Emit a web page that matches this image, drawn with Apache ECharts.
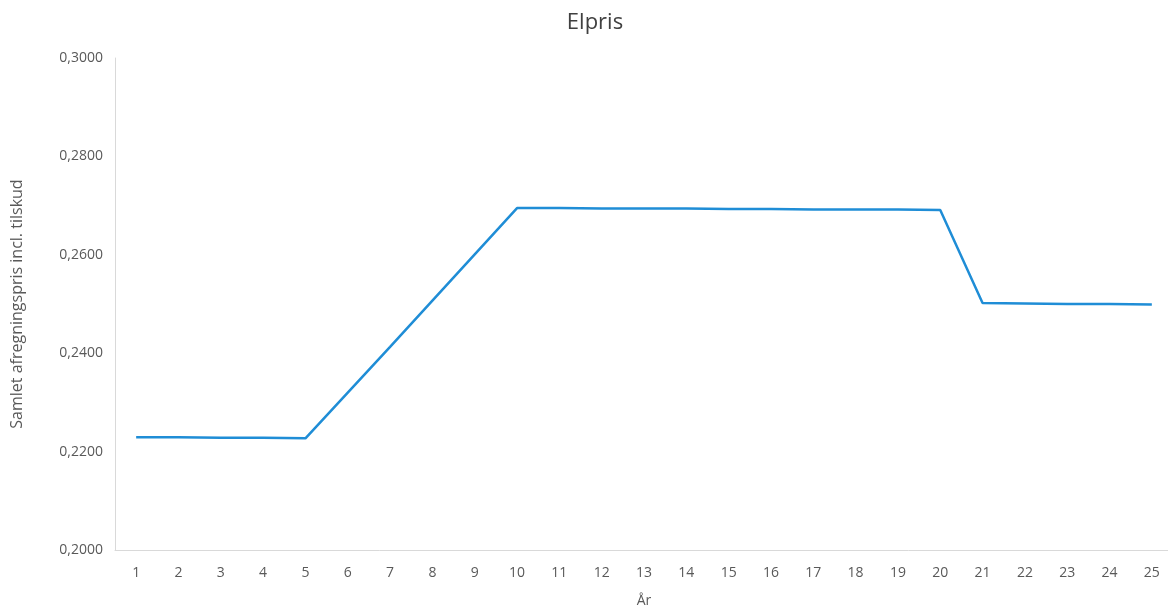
<!DOCTYPE html>
<html>
<head>
<meta charset="utf-8">
<script src="https://cdn.jsdelivr.net/npm/echarts@6/dist/echarts.min.js"></script>
<style>
html,body{margin:0;padding:0;background:#fff;overflow:hidden;}
#chart{width:1180px;height:609px;}
</style>
</head>
<body>
<div id="chart"></div>
<script>
const years = ['1','2','3','4','5','6','7','8','9','10','11','12','13','14','15','16','17','18','19','20','21','22','23','24','25'];
const elpris = [0.2229, 0.2229, 0.2228, 0.2228, 0.2227, 0.2320, 0.2413, 0.2507, 0.2601, 0.2695, 0.2695, 0.2694, 0.2694, 0.2694, 0.2693, 0.2693, 0.2692, 0.2692, 0.2692, 0.2691, 0.2502, 0.2501, 0.2500, 0.2500, 0.2499];
const title = 'Elpris';
const xName = 'År';
const yName = 'Samlet afregningspris incl. tilskud';

const chart = echarts.init(document.getElementById('chart'), null, {renderer:'canvas'});
const font = '"Open Sans", "Noto Sans", sans-serif';
chart.setOption({
  animation:false,
  backgroundColor:'#ffffff',
  title:{text:title,left:590,top:7,textAlign:'center',textStyle:{fontFamily:font,fontSize:22,fontWeight:'normal',color:'#404040'}},
  grid:{left:115,top:58,bottom:59,width:1058,outerBoundsMode:'none',containLabel:false},
  xAxis:{type:'category',data:years,boundaryGap:true,
    name:xName,nameLocation:'middle',nameGap:44,
    nameTextStyle:{fontFamily:font,fontSize:14,color:'#595959'},
    axisLine:{lineStyle:{color:'#d9d9d9'}},axisTick:{show:false},
    axisLabel:{fontFamily:font,fontSize:14,color:'#595959',margin:16},
    splitLine:{show:false}},
  yAxis:{type:'value',min:0.2,max:0.3,interval:0.02,
    name:yName,nameLocation:'middle',nameGap:90,
    nameTextStyle:{fontFamily:font,fontSize:16,color:'#595959'},
    axisLine:{show:true,lineStyle:{color:'#d9d9d9'}},axisTick:{show:false},
    axisLabel:{fontFamily:font,fontSize:14,color:'#595959',margin:12,
      formatter:v=>v.toFixed(4).replace('.',',')},
    splitLine:{show:false}},
  series:[{type:'line',data:elpris,showSymbol:false,symbol:'none',
    lineStyle:{color:'#1f8dd6',width:2.5}}]
});
</script>
</body>
</html>
